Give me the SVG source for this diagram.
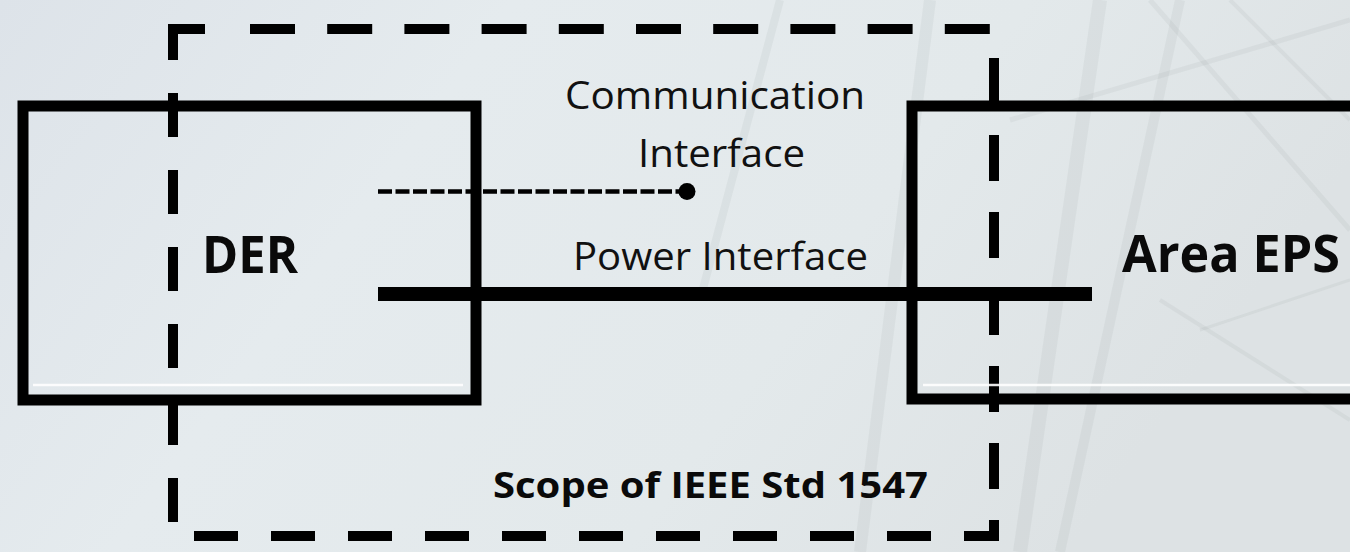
<svg xmlns="http://www.w3.org/2000/svg" width="1350" height="552" viewBox="0 0 1350 552">
<defs>
<linearGradient id="bg" x1="0" y1="0" x2="1" y2="0.3">
<stop offset="0" stop-color="#dde3e9"/>
<stop offset="0.35" stop-color="#e5ebee"/>
<stop offset="0.7" stop-color="#e3e9eb"/>
<stop offset="1" stop-color="#dde2e4"/>
</linearGradient>
<style>
.box{fill:none;stroke:#000;stroke-width:11;stroke-linejoin:miter}
.scope{fill:none;stroke:#000;stroke-width:10;stroke-linecap:butt;stroke-linejoin:miter}
.hl{stroke:#ffffff;stroke-width:2.5;opacity:0.9}
.lbl{font-family:"Open Sans","Noto Sans","Liberation Sans",sans-serif;font-size:39px;fill:#111}
.big{font-family:"Open Sans","Noto Sans","Liberation Sans",sans-serif;font-weight:bold;font-size:52px;fill:#0a0a0a}
.bold{font-family:"Open Sans","Noto Sans","Liberation Sans",sans-serif;font-weight:bold;font-size:36px;fill:#0a0a0a}
.tw{fill:none;stroke:#8d9396;opacity:0.1}
</style>
</defs>
<rect width="1350" height="552" fill="url(#bg)"/>
<g id="background-towers">
<path class="tw" stroke-width="14" d="M1100,0 L1020,552"/>
<path class="tw" stroke-width="10" d="M1180,0 L1060,552"/>
<path class="tw" stroke-width="5" d="M1010,120 L1350,20"/>
<path class="tw" stroke-width="5" d="M1150,0 L1350,230"/>
<path class="tw" stroke-width="4" d="M1230,0 L1350,120"/>
<path class="tw" stroke-width="4" d="M1160,300 L1350,420"/>
<path class="tw" stroke-width="3" d="M1200,330 L1350,280"/>
<path class="tw" stroke-width="12" d="M930,0 L860,552"/>
<path class="tw" stroke-width="8" d="M780,0 L700,300"/>
</g>
<g id="scope">
<path class="scope" d="M173,60 V29 H205"/>
<line class="scope" x1="250" y1="29" x2="990" y2="29" stroke-dasharray="45 32.2"/>
<line class="scope" x1="173" y1="93" x2="173" y2="523" stroke-dasharray="44 33"/>
<line class="scope" x1="994" y1="58" x2="994" y2="489" stroke-dasharray="46 31"/>
<line class="scope" x1="194" y1="536" x2="932" y2="536" stroke-dasharray="44 33"/>
<path class="scope" d="M964,536 H994 V520"/>
</g>
<g id="der">
<rect class="box" x="23" y="106" width="453" height="294"/>
<line class="hl" x1="33" y1="385" x2="463" y2="385"/>
<text class="big" x="202" y="273" textLength="96" lengthAdjust="spacingAndGlyphs">DER</text>
</g>
<g id="area-eps">
<path class="box" d="M1360,106 H912 V399 H1360"/>
<line class="hl" x1="923" y1="385" x2="1350" y2="385"/>
<text class="big" x="1122" y="272" textLength="218" lengthAdjust="spacingAndGlyphs">Area EPS</text>
</g>
<g id="connectors">
<line x1="378" y1="191.5" x2="682" y2="191.5" stroke="#000" stroke-width="4.5" stroke-dasharray="14 3.5"/>
<circle cx="687" cy="191.5" r="8.5" fill="#000"/>
<line x1="378" y1="294" x2="1092" y2="294" stroke="#000" stroke-width="14"/>
</g>
<g id="labels">
<text class="lbl" x="565" y="109" textLength="300" lengthAdjust="spacingAndGlyphs">Communication</text>
<text class="lbl" x="638" y="167" textLength="167" lengthAdjust="spacingAndGlyphs">Interface</text>
<text class="lbl" x="573" y="270" textLength="295" lengthAdjust="spacingAndGlyphs">Power Interface</text>
<text class="bold" x="493" y="498" textLength="435" lengthAdjust="spacingAndGlyphs">Scope of IEEE Std 1547</text>
</g>
</svg>
